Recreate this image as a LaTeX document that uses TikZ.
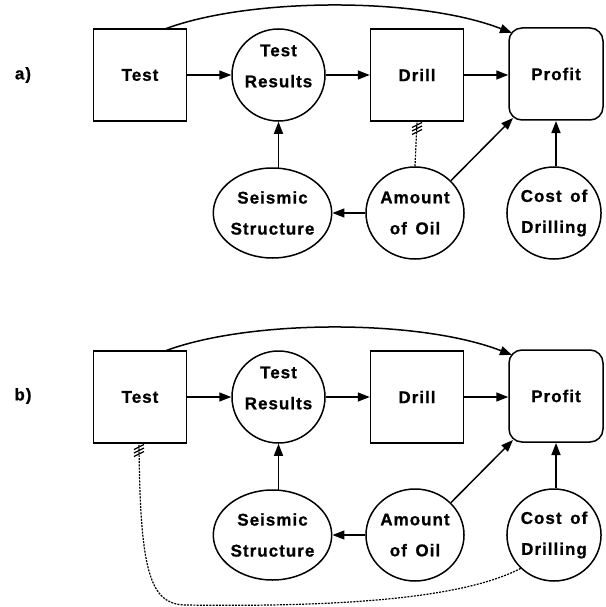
\documentclass[tikz,border=0pt]{standalone}
\usepackage{fontspec}
\setmainfont{Liberation Sans}[LetterSpace=6,WordSpace=1.5,BoldFeatures={FakeBold=0.8}]
\usetikzlibrary{arrows.meta,shapes.geometric,calc}
\tikzset{
  lab/.style={font=\fontsize{17}{31}\selectfont\bfseries, align=center, inner sep=0pt},
  decbox/.style={draw, line width=1.5pt, minimum width=93pt, minimum height=92pt, inner sep=0pt, lab},
  valbox/.style={draw, line width=1.5pt, rounded corners=13pt, minimum width=94pt, minimum height=92pt, inner sep=0pt, lab},
  chance/.style={draw, ellipse, line width=1.5pt, inner sep=0pt, lab},
  arr/.style={line width=1.5pt, -{Triangle[length=12pt,width=9pt]}},
  info/.style={line width=1.2pt, dash pattern=on 2pt off 1.2pt},
  hash/.style={line width=1.2pt}
}
\begin{document}
\begin{tikzpicture}[x=1pt,y=-1pt]
\useasboundingbox (0,0) rectangle (605,607);
% ---------- panel a ----------
\node[lab] (la) at (23,75) {a)};
\node[decbox] (testA) at (140,75) {Test};
\node[chance, minimum width=93pt, minimum height=92pt] (trA) at (278.5,75) {};
\node[lab] (trtA) at (278.5,66) {Test\\Results};
\node[decbox] (drillA) at (417,75) {Drill};
\node[valbox] (profA) at (556,74) {Profit};
\node[chance, minimum width=103pt, minimum height=90pt] (seisA) at (272.5,213) {Seismic\\Structure};
\node[chance, minimum width=90pt, minimum height=92pt] (amtA) at (415,213) {Amount\\of Oil};
\node[chance, minimum width=92pt, minimum height=92pt] (costA) at (554,213) {Cost of\\Drilling};
\coordinate (pcA) at (513,118);
\coordinate (arcsA) at (165,29);
\coordinate (arceA) at (512,33);
\draw[arr] (testA) -- (trA);
\draw[arr] (trA) -- (drillA);
\draw[arr] (drillA.east) -- (profA.west |- drillA.east);
\draw[arr] (seisA.north -| trA.south) ++(0,1) -- (trA.south);
\draw[arr] (amtA.west) -- (seisA.east);
\draw[arr] (amtA.42) -- (pcA);
\draw[arr] (costA.north -| 556,0) -- (556,121);
\draw[arr] (arcsA) .. controls (250,-3) and (420,-3) .. (arceA);
\draw[info] (amtA.north) -- (drillA.south);
\foreach \yy in {125,128.5,132} \draw[hash] (412,\yy+2.5) -- (422,\yy-2.5);
% ---------- panel b ----------
\begin{scope}[shift={(0,322)}]
\node[lab] (lb) at (23,74) {b)};
\node[decbox] (testB) at (140,75) {Test};
\node[chance, minimum width=93pt, minimum height=92pt] (trB) at (278.5,75) {};
\node[lab] (trtB) at (278.5,66) {Test\\Results};
\node[decbox] (drillB) at (417,75) {Drill};
\node[valbox] (profB) at (556,74) {Profit};
\node[chance, minimum width=103pt, minimum height=90pt] (seisB) at (272.5,213) {Seismic\\Structure};
\node[chance, minimum width=90pt, minimum height=92pt] (amtB) at (415,213) {Amount\\of Oil};
\node[chance, minimum width=92pt, minimum height=92pt] (costB) at (554,213) {Cost of\\Drilling};
\coordinate (pcB) at (513,118);
\coordinate (arcsB) at (165,29);
\coordinate (arceB) at (512,33);
\coordinate (tbB) at (139,121);
\draw[arr] (testB) -- (trB);
\draw[arr] (trB) -- (drillB);
\draw[arr] (drillB.east) -- (profB.west |- drillB.east);
\draw[arr] (seisB.north -| trB.south) ++(0,1) -- (trB.south);
\draw[arr] (amtB.west) -- (seisB.east);
\draw[arr] (amtB.42) -- (pcB);
\draw[arr] (costB.north -| 556,0) -- (556,121);
\draw[arr] (arcsB) .. controls (250,-3) and (420,-3) .. (arceB);
\draw[info] (costB.225) .. controls (460,278) and (330,285) .. (185,283)
            .. controls (150,282) and (140,250) .. (tbB);
\foreach \yy in {125,128.5,132} \draw[hash] (134,\yy+2.5) -- (144,\yy-2.5);
\end{scope}
\end{tikzpicture}
\end{document}
